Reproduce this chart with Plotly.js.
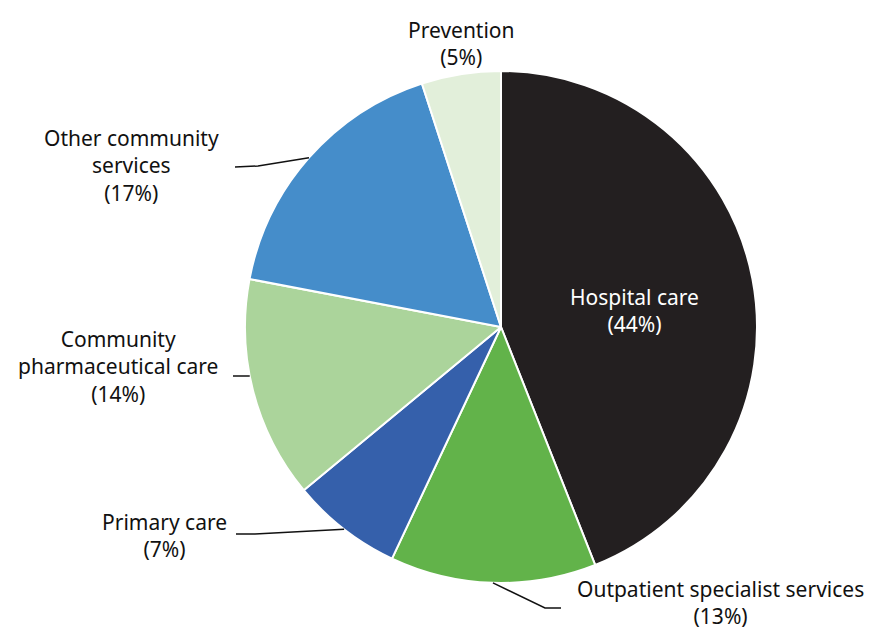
<!DOCTYPE html>
<html><head><meta charset="utf-8">
<script src="https://cdn.plot.ly/plotly-3.0.1.min.js"></script>
<style>html,body{margin:0;padding:0;background:#fff}#chart{width:874px;height:628px}</style>
</head><body><div id="chart"></div>
<script>
const categories = ["Hospital care", "Outpatient specialist services", "Primary care", "Community pharmaceutical care", "Other community services", "Prevention"];
const shares = [44, 13, 7, 14, 17, 5];
const labelText = ["Hospital care", "Outpatient specialist services", "Primary care", "Community<br>pharmaceutical care", "Other community<br>services", "Prevention"];
const colors = ["#231f20", "#62b34a", "#3560ab", "#abd49b", "#458dca", "#e2efda"];

const W = 874, H = 628;
const cx = 501, cy = 327, R = 256;
const FONT = "Noto Sans, sans-serif";
const FS = 21;

// label placement (pixel centres) and leader geometry
const labelPos = [
  {x: 634, y: 310, color: "#ffffff"},
  {x: 720, y: 602},
  {x: 164, y: 535},
  {x: 118, y: 366},
  {x: 131, y: 165},
  {x: 462, y: 43}
];
const leaders = [
  null,
  {elbow: [545, 608], end: [561, 608]},
  {elbow: [255, 534], end: [236, 534]},
  {elbow: [240, 376], end: [233, 376], edgeY: 376},
  {elbow: [258, 166], end: [235, 167]},
  null
];

const px = x => x / W, py = y => 1 - y / H;

const total = shares.reduce((a, b) => a + b, 0);
let cum = 0;
const annotations = [], shapes = [];
shares.forEach((v, i) => {
  const mid = (cum + v / 2) / total * 2 * Math.PI;
  cum += v;
  const lp = labelPos[i];
  annotations.push({
    xref: "paper", yref: "paper", x: px(lp.x), y: py(lp.y),
    xanchor: "center", yanchor: "middle", showarrow: false, align: "center",
    text: labelText[i] + "<br>(" + v + "%)",
    font: {family: FONT, size: FS, color: lp.color || "#111111"}
  });
  const L = leaders[i];
  if (L) {
    let ex, ey;
    if (L.edgeY !== undefined) {
      ey = L.edgeY; ex = cx - Math.sqrt(R * R - (ey - cy) * (ey - cy));
    } else {
      ex = cx + R * Math.sin(mid); ey = cy - R * Math.cos(mid);
    }
    shapes.push({
      type: "path", xref: "paper", yref: "paper",
      path: `M ${px(ex)} ${py(ey)} L ${px(L.elbow[0])} ${py(L.elbow[1])} L ${px(L.end[0])} ${py(L.end[1])}`,
      line: {color: "#111111", width: 1.5}
    });
  }
});

const trace = {
  type: "pie",
  labels: categories,
  values: shares,
  sort: false,
  direction: "clockwise",
  rotation: 0,
  textinfo: "none",
  hoverinfo: "label+percent",
  marker: {colors: colors, line: {color: "#ffffff", width: 2}},
  domain: {x: [px(cx - R), px(cx + R)], y: [py(cy + R), py(cy - R)]},
  showlegend: false
};

Plotly.newPlot("chart", [trace], {
  width: W, height: H,
  margin: {l: 0, r: 0, t: 0, b: 0},
  paper_bgcolor: "#ffffff",
  showlegend: false,
  annotations: annotations,
  shapes: shapes
}, {displayModeBar: false, staticPlot: true});
</script></body></html>
